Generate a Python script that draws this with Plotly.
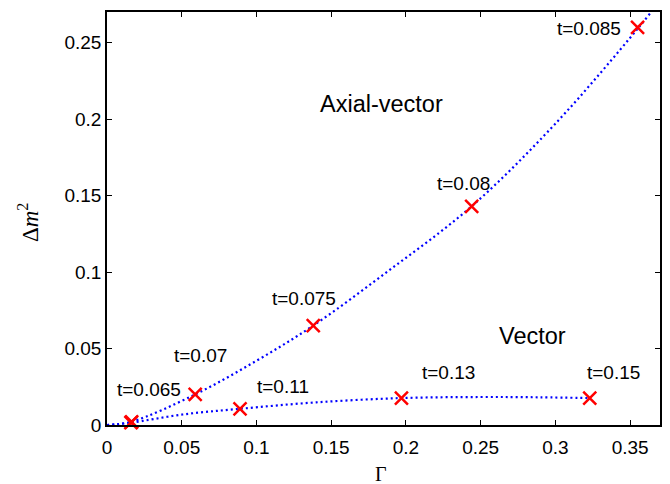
import plotly.graph_objects as go

# Marker points (Gamma, Delta m^2)
axial_gamma = [0.0165, 0.059, 0.138, 0.244, 0.355]
axial_dm2 = [0.0020, 0.020, 0.065, 0.143, 0.260]
axial_labels = ["t=0.065", "t=0.07", "t=0.075", "t=0.08", "t=0.085"]

vector_gamma = [0.0160, 0.089, 0.197, 0.323]
vector_dm2 = [0.0015, 0.0106, 0.0176, 0.0176]
vector_labels = ["", "t=0.11", "t=0.13", "t=0.15"]

# Dotted fit curves, sampled from the figure
axial_curve_x = [0, 0.0165, 0.059, 0.100, 0.138, 0.190, 0.244, 0.300, 0.355, 0.372]
axial_curve_y = [0, 0.0022, 0.020, 0.042, 0.065, 0.102, 0.143, 0.197, 0.259, 0.280]
vector_curve_x = [0, 0.016, 0.050, 0.089, 0.140, 0.197, 0.250, 0.290, 0.323]
vector_curve_y = [0, 0.0015, 0.0068, 0.0106, 0.0148, 0.0176, 0.0183, 0.0181, 0.0176]

# Label positions (data coords)
axial_label_x = [0.0282, 0.0624, 0.1321, 0.2388, 0.3226]
axial_label_y = [0.0235, 0.0453, 0.0828, 0.1582, 0.2590]
vector_label_x = [None, 0.118, 0.2287, 0.3387]
vector_label_y = [None, 0.0250, 0.0340, 0.0340]

x_ticks = [0, 0.05, 0.1, 0.15, 0.2, 0.25, 0.3, 0.35]
y_ticks = [0, 0.05, 0.1, 0.15, 0.2, 0.25]

fig = go.Figure()
curve_line = dict(color="rgb(0,0,255)", width=2.2, dash="2px,3px", shape="spline")
fig.add_trace(go.Scatter(x=axial_curve_x, y=axial_curve_y, mode="lines", line=curve_line, hoverinfo="skip"))
fig.add_trace(go.Scatter(x=vector_curve_x, y=vector_curve_y, mode="lines", line=curve_line, hoverinfo="skip"))
mk = dict(symbol="x-thin", size=13, color="red", line=dict(color="red", width=2.5))
fig.add_trace(go.Scatter(x=axial_gamma, y=axial_dm2, mode="markers", marker=mk, cliponaxis=False))
fig.add_trace(go.Scatter(x=vector_gamma, y=vector_dm2, mode="markers", marker=mk, cliponaxis=False))

lab_font = dict(family="Liberation Sans, Arial, sans-serif", size=19, color="black")
for txt, lx, ly in zip(axial_labels + vector_labels,
                       axial_label_x + vector_label_x,
                       axial_label_y + vector_label_y):
    if txt:
        fig.add_annotation(x=lx, y=ly, text=txt, showarrow=False, font=lab_font,
                           xanchor="center", yanchor="middle")

big_font = dict(family="Liberation Sans, Arial, sans-serif", size=23.5, color="black")
fig.add_annotation(x=0.1838, y=0.2100, text="Axial-vector", showarrow=False, font=big_font)
fig.add_annotation(x=0.285, y=0.0580, text="Vector", showarrow=False, font=big_font)

# Axis titles
fig.add_annotation(xref="paper", yref="paper", x=0.496, y=-0.118, text="Γ",
                   showarrow=False,
                   font=dict(family="Liberation Serif, Times New Roman, serif", size=20, color="black"),
                   xanchor="center", yanchor="middle")
fig.add_annotation(xref="paper", yref="paper", x=-0.142, y=0.49, text="Δ<i>m</i><sup>2</sup>",
                   showarrow=False,
                   font=dict(family="Liberation Serif, Times New Roman, serif", size=23, color="black"),
                   textangle=-90, xanchor="center", yanchor="middle")

tick_font = dict(family="Liberation Sans, Arial, sans-serif", size=19, color="black")
axis_common = dict(showline=True, linecolor="black", linewidth=1.5, mirror="ticks",
                   ticks="inside", ticklen=5, tickwidth=1, tickcolor="black",
                   showgrid=False, zeroline=False, tickfont=tick_font, automargin=False)

fig.update_layout(
    width=670, height=484,
    margin=dict(l=107, r=10, t=12, b=59),
    paper_bgcolor="white", plot_bgcolor="white",
    showlegend=False,
    xaxis=dict(range=[0, 0.37], tickvals=x_ticks, ticktext=[str(v) for v in x_ticks],
               ticklabelstandoff=4, **axis_common),
    yaxis=dict(range=[0, 0.27], tickvals=y_ticks, ticktext=[str(v) for v in y_ticks],
               **axis_common),
)

fig.write_html("out.html")
